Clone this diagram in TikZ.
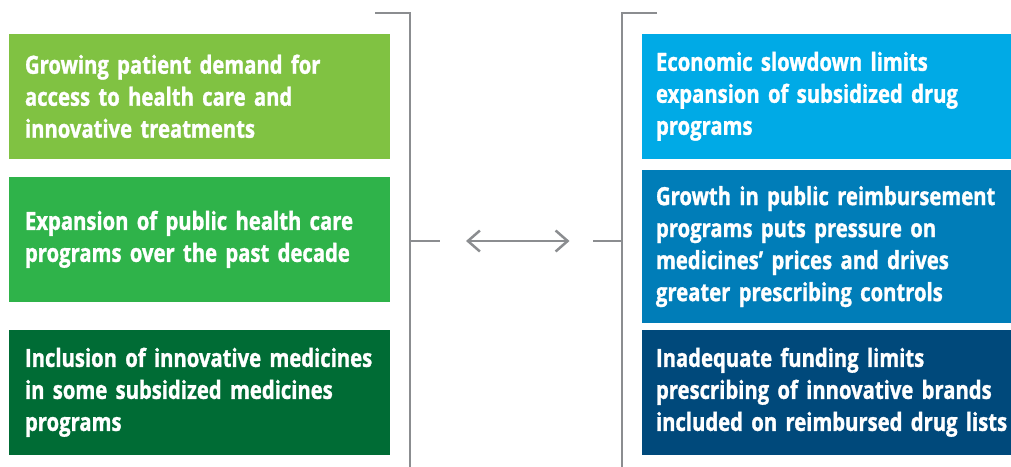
\documentclass[tikz,border=0pt]{standalone}
\usepackage{fontspec}
\setmainfont{Open Sans}[FakeStretch=0.81,BoldFeatures={FakeBold=1.2}]
\usetikzlibrary{arrows.meta}
\definecolor{gL1}{HTML}{80C242}
\definecolor{gL2}{HTML}{2FB34A}
\definecolor{gL3}{HTML}{006C35}
\definecolor{bR1}{HTML}{00AAE6}
\definecolor{bR2}{HTML}{007DB8}
\definecolor{bR3}{HTML}{00497B}
\definecolor{brk}{HTML}{8B8D90}
\begin{document}
\begin{tikzpicture}[x=1pt,y=-1pt,
  card/.style={anchor=west,inner sep=0pt,outer sep=0pt,text=white,
    font=\fontsize{25}{32}\selectfont\bfseries,align=left,text width=365pt},
  bline/.style={draw=brk,line width=2.5pt},
  barrow/.style={draw=brk,line width=2.5pt,{Straight Barb[length=12pt,width=21pt]}-{Straight Barb[length=12pt,width=21pt]}}]
\useasboundingbox (0,0) rectangle (1011,466);
% left boxes
\fill[gL1] (9,34) rectangle (390,158.7);
\fill[gL2] (9,177) rectangle (390,301.7);
\fill[gL3] (9,330) rectangle (390,454.7);
\node[card] (l1) at (25,96.3) {Growing patient demand for\\access to health care and\\innovative treatments};
\node[card] (l2) at (25,239.3) {Expansion of public health care\\programs over the past decade};
\node[card] (l3) at (25,392.3) {Inclusion of innovative medicines\\in some subsidized medicines\\programs};
% right boxes
\fill[bR1] (642,34) rectangle (1011,158.7);
\fill[bR2] (642,170) rectangle (1011,323.3);
\fill[bR3] (642,330) rectangle (1011,454.5);
\node[card] (r1) at (656,96.3) {Economic slowdown limits\\expansion of subsidized drug\\programs};
\node[card] (r2) at (656,246.6) {Growth in public reimbursement\\programs puts pressure on\\medicines’ prices and drives\\greater prescribing controls};
\node[card] (r3) at (656,392.3) {Inadequate funding limits\\prescribing of innovative brands\\included on reimbursed drug lists};
% brackets
\coordinate (lt) at (375,13);
\coordinate (lc) at (410,13);
\coordinate (lb) at (410,470);
\coordinate (lm) at (410,241);
\coordinate (ls) at (440,241);
\coordinate (rt) at (657,13);
\coordinate (rc) at (622,13);
\coordinate (rb) at (622,470);
\coordinate (rm) at (622,241);
\coordinate (rs) at (593,241);
\draw[bline] (lt) -- (lc) -- (lb);
\draw[bline] (lm) -- (ls);
\draw[bline] (rt) -- (rc) -- (rb);
\draw[bline] (rm) -- (rs);
\coordinate (al) at (466,241);
\coordinate (ar) at (569.5,241);
\draw[barrow] (al) -- (ar);
\end{tikzpicture}
\end{document}
